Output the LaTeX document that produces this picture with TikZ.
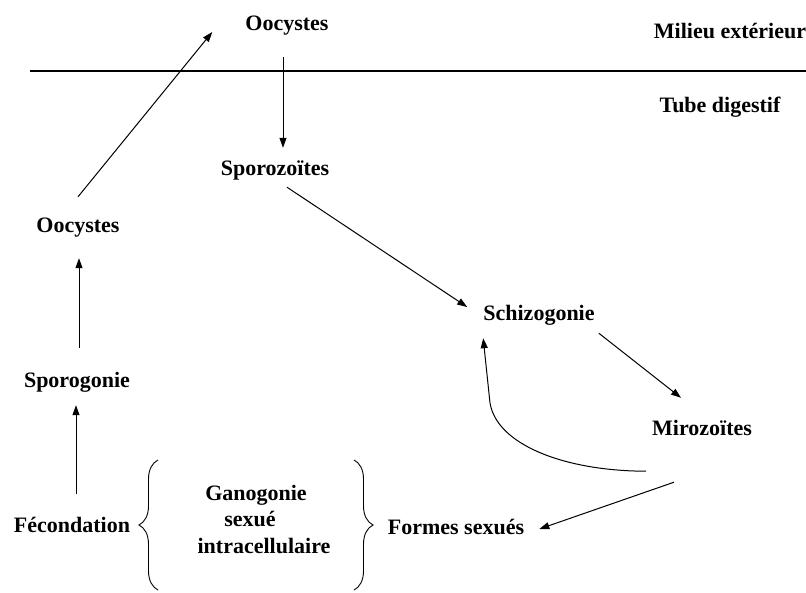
\documentclass[tikz,border=0pt]{standalone}
\usepackage{fontspec}
\setmainfont{Liberation Serif}
\usetikzlibrary{arrows.meta,decorations.pathreplacing}

\begin{document}
\begin{tikzpicture}[x=1pt,y=-1pt,font=\fontsize{22}{26}\selectfont\bfseries,
  lbl/.style={inner sep=0pt,text height=14pt,text depth=4pt},
  fl/.style={line width=1pt,-{Triangle[length=10pt,width=7pt]}},
  accol/.style={line width=0.9pt,decorate,decoration={brace,amplitude=19pt}}]

\useasboundingbox (0,0) rectangle (806,592);

% milieu / tube
\coordinate (sepg) at (30,71);
\coordinate (sepd) at (806,71);
\draw[line width=1.1pt] (sepg) -- (sepd);
\node[lbl] (milieu) at (730,33) {Milieu extérieur};
\node[lbl] (tube) at (720,107) {Tube digestif};

\node[lbl] (oocs) at (287,25) {Oocystes};
\node[lbl] (spz) at (275,170) {Sporozoïtes};
\node[lbl] (schizo) at (539,315) {Schizogonie};
\node[lbl] (miro) at (702,430) {Mirozoïtes};
\node[lbl] (formes) at (456,529) {Formes sexués};
\node[lbl] (oocg) at (78,227) {Oocystes};
\node[lbl] (sporog) at (77,382) {Sporogonie};
\node[lbl] (fec) at (72,527) {Fécondation};

\node[lbl] (gano1) at (256,495) {Ganogonie};
\node[lbl] (gano2) at (250,521) {sexué};
\node[lbl] (gano3) at (264,548) {intracellulaire};

\draw[accol] (158,590) -- (158,460);
\draw[accol] (354,460) -- (354,590);

\draw[fl] ([shift={(-4,23)}]oocs.south) -- ([shift={(8,-13)}]spz.north);
\draw[fl] ([shift={(12,8)}]spz.south) -- ([shift={(-16,-8)}]schizo.west);
\draw[fl] ([shift={(4,9)}]schizo.south east) -- ([shift={(-21,-23)}]miro.north);
\draw[fl] ([shift={(-28,43)}]miro.south) -- ([shift={(15,0)}]formes.east);
\draw[fl] ([shift={(-56,32)}]miro.south) .. controls (565,471) and (497,445) .. (490,403) -- ([shift={(0,14)}]schizo.south west);
\draw[fl] ([shift={(4,-24)}]fec.north) -- ([shift={(-1,14)}]sporog.south);
\draw[fl] ([shift={(2,-25)}]sporog.north) -- ([shift={(1,22)}]oocg.south);
\draw[fl] ([shift={(0,-21)}]oocg.north) -- ([shift={(-33,7)}]oocs.west);

\end{tikzpicture}
\end{document}
